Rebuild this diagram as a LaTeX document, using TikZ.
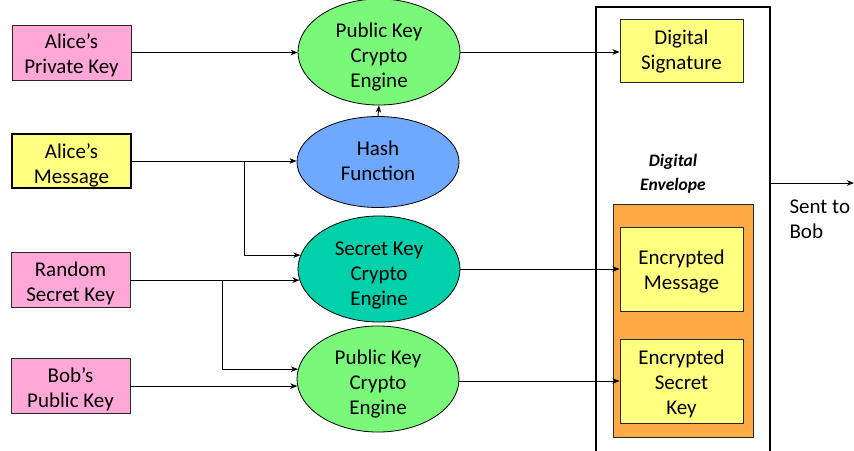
\documentclass[tikz,border=0pt]{standalone}
\usepackage{fontspec}
\setmainfont{Carlito}
\usetikzlibrary{arrows.meta,calc,shapes.geometric}
\definecolor{kpink}{RGB}{255,168,216}
\definecolor{kyellow}{RGB}{255,255,128}
\definecolor{kgreen}{RGB}{122,248,122}
\definecolor{kblue}{RGB}{111,168,255}
\definecolor{kteal}{RGB}{0,209,170}
\definecolor{korange}{RGB}{255,170,68}
\definecolor{kline}{RGB}{40,40,40}
\newcommand{\tx}[2][0pt]{\raisebox{-#1}[\height][\depth]{\begin{tabular}{@{}c@{}}#2\end{tabular}}}
\tikzset{
  txt/.style={font=\fontsize{21}{25}\selectfont, align=center, text=black},
  keybox/.style={txt, draw=kline, line width=0.9pt, fill=kpink, minimum width=119pt, minimum height=55pt, inner sep=0pt},
  msgbox/.style={txt, draw=black, line width=2.5pt, fill=kyellow, minimum width=119pt, minimum height=54pt, inner sep=0pt},
  outbox/.style={txt, draw=kline, line width=0.9pt, fill=kyellow, minimum width=123pt, inner sep=0pt},
  engine/.style={txt, ellipse, draw=black, line width=0.8pt, minimum width=162pt, minimum height=91pt, inner sep=0pt},
  conn/.style={draw=black, line width=0.9pt, -{Stealth[length=7pt,width=5.5pt,inset=2pt]}},
}
\begin{document}
\begin{tikzpicture}[x=1pt,y=-1pt]
\useasboundingbox (0,0) rectangle (854,450);
% input boxes
\node[keybox] (apk) at (71.5,52.5) {\tx[3.5pt]{Alice’s\\Private Key}};
\node[msgbox] (msg) at (71.5,161) {\tx[4.5pt]{Alice’s\\Message}};
\node[keybox] (rsk) at (70.5,279.5) {\tx[4.5pt]{Random\\Secret Key}};
\node[keybox] (bpk) at (70.5,385.5) {\tx[4.5pt]{Bob’s\\Public Key}};
% engines
\node[engine, fill=kgreen] (pk1) at (379,52) {\tx[5.5pt]{Public Key\\Crypto\\Engine}};
\node[engine, fill=kblue] (hash) at (378,162) {\tx[0.5pt]{Hash\\Function}};
\node[engine, fill=kteal] (sec) at (379,269) {\tx[6pt]{Secret Key\\Crypto\\Engine}};
\node[engine, fill=kgreen] (pk2) at (378,379) {\tx[5.5pt]{Public Key\\Crypto\\Engine}};
% big package box
\coordinate (bbl) at (596,452);
\coordinate (btl) at (596,7);
\coordinate (btr) at (770,7);
\coordinate (bbr) at (770,452);
\draw[line width=2.6pt, black] (bbl) -- (btl) -- (btr) -- (bbr);
% envelope
\node[draw=kline, line width=0.9pt, fill=korange, minimum width=140pt, minimum height=233pt, inner sep=0pt] (env) at (683,320.5) {};
\node[font=\fontsize{17.5}{24}\selectfont\bfseries\itshape, align=center] (envlbl) at (673,174) {Digital\\Envelope};
% outputs
\node[outbox, minimum height=63pt] (ds) at (681.5,50.5) {\tx[1pt]{Digital\\Signature}};
\node[outbox, minimum height=84pt] (em) at (681.5,269) {\tx[3pt]{Encrypted\\Message}};
\node[outbox, minimum height=84pt] (esk) at (681.5,381) {\tx[3pt]{Encrypted\\Secret\\Key}};
% connectors
\draw[conn] (apk.east) -- (apk.east -| pk1.west);
\draw[conn] (msg.east) -- (msg.east -| hash.west);
\coordinate (b1) at (244,161);
\draw[conn] (b1) |- (sec.170.5);
\draw[conn] (sec.188.7 -| rsk.east) -- (sec.188.7);
\coordinate (b2) at (222,281);
\draw[conn] (b2) |- (pk2.173.5);
\draw[conn] (pk2.185 -| bpk.east) -- (pk2.185);
\draw[conn] (hash.north) -- (pk1.south);
\draw[conn] (pk1.east) -- (pk1.east -| ds.west);
\draw[conn] (sec.east) -- (sec.east -| em.west);
\draw[conn] (pk2.east |- esk.west) -- (esk.west);
\coordinate (sa) at (770,183);
\coordinate (sb) at (854,183);
\draw[conn] (sa) -- (sb);
\node[txt, anchor=west, align=left] (sent) at (786,219.5) {Sent to\\Bob};
\end{tikzpicture}
\end{document}
